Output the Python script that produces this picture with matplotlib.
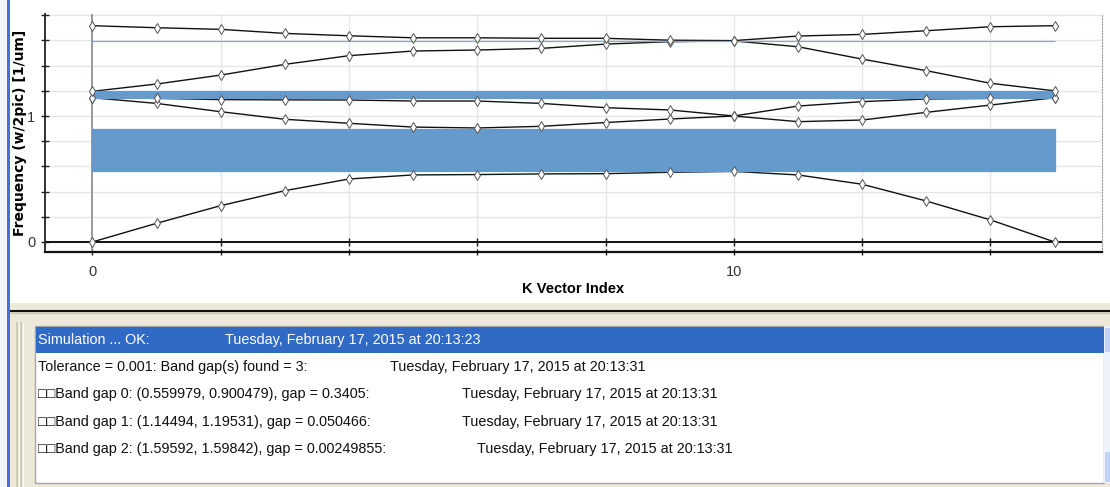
import numpy as np
import matplotlib
matplotlib.use("Agg")
import matplotlib.pyplot as plt
from matplotlib.patches import Rectangle

# ---------------- data ----------------
k_index = list(range(16))
band1 = [0.0, 0.148, 0.288, 0.407, 0.500, 0.532, 0.535, 0.540, 0.542, 0.553, 0.560,
         0.532, 0.458, 0.325, 0.175, 0.0]
band2 = [1.145, 1.100, 1.034, 0.974, 0.942, 0.912, 0.905, 0.918, 0.948, 0.976, 1.000,
         0.955, 0.968, 1.029, 1.087, 1.145]
band3 = [1.145, 1.140, 1.130, 1.128, 1.127, 1.119, 1.119, 1.100, 1.066, 1.048, 1.000,
         1.079, 1.114, 1.135, 1.140, 1.145]
band4 = [1.196, 1.254, 1.325, 1.410, 1.479, 1.516, 1.524, 1.537, 1.571, 1.590, 1.596,
         1.550, 1.452, 1.360, 1.260, 1.200]
band5 = [1.717, 1.701, 1.688, 1.656, 1.637, 1.621, 1.621, 1.617, 1.617, 1.602, 1.5984,
         1.635, 1.648, 1.677, 1.709, 1.717]
bands = [band1, band2, band3, band4, band5]

gap_low = [0.559979, 1.14494, 1.59592]
gap_high = [0.900479, 1.19531, 1.59842]

x_ticks = [0, 2, 4, 6, 8, 10, 12, 14]
x_tick_labels = ["0", "", "", "", "", "10", "", ""]
y_ticks = [0.0, 0.2, 0.4, 0.6, 0.8, 1.0, 1.2, 1.4, 1.6, 1.8]
y_tick_labels = ["0", "", "", "", "", "1", "", "", "", ""]

x_title = "K Vector Index"
y_title = "Frequency (w/2pic) [1/um]"

log_messages = [
    "Simulation ... OK:",
    "Tolerance = 0.001: Band gap(s) found = 3:",
    "\u25a1\u25a1Band gap 0: (0.559979, 0.900479), gap = 0.3405:",
    "\u25a1\u25a1Band gap 1: (1.14494, 1.19531), gap = 0.050466:",
    "\u25a1\u25a1Band gap 2: (1.59592, 1.59842), gap = 0.00249855:",
]
log_times = [
    "Tuesday, February 17, 2015 at 20:13:23",
    "Tuesday, February 17, 2015 at 20:13:31",
    "Tuesday, February 17, 2015 at 20:13:31",
    "Tuesday, February 17, 2015 at 20:13:31",
    "Tuesday, February 17, 2015 at 20:13:31",
]

# ---------------- layout ----------------
W, H = 1110, 487
fig = plt.figure(figsize=(W / 100, H / 100), dpi=100, facecolor="white")

NARROW = ["Liberation Sans Narrow", "Liberation Sans", "DejaVu Sans"]
REG = ["Liberation Sans", "DejaVu Sans"]

# background / window chrome in pixel coordinates
bg = fig.add_axes([0, 0, 1, 1], zorder=0)
bg.set_xlim(0, W)
bg.set_ylim(H, 0)
bg.axis("off")
bg.add_patch(Rectangle((10, 303), W - 10, H - 303, facecolor="#ECE9D8", edgecolor="none"))
bg.hlines(309, 10, W, color="#F8F6EE", lw=1.0)
bg.hlines(311, 10, W, color="#111111", lw=1.6)
bg.hlines(313, 10, W, color="#C9C5B2", lw=1.0)
bg.vlines([17, 21], 322, H, color="#C9C5B2", lw=1.2)
bg.vlines([19, 23], 322, H, color="#FFFFFF", lw=0.8)
bg.add_patch(Rectangle((0, 0), 7, H, facecolor="#F4F4F4", edgecolor="none"))
bg.add_patch(Rectangle((7, 0), 3, H, facecolor="#3E74DC", edgecolor="none"))
# list box
bg.add_patch(Rectangle((35, 326), 1069, 157, facecolor="white", edgecolor="#A7A6AA", lw=1))
bg.add_patch(Rectangle((36, 327), 1068, 26, facecolor="#316AC5", edgecolor="none"))
bg.add_patch(Rectangle((1104, 326), 6, 157, facecolor="#EEF2FA", edgecolor="none"))
bg.add_patch(Rectangle((1105, 328), 5, 24, facecolor="#C3D3F5", edgecolor="none"))
bg.add_patch(Rectangle((1105, 452), 5, 30, facecolor="#C3D3F5", edgecolor="none"))

row_y = [340, 367, 394, 422, 449]
time_x = [225, 390, 462, 462, 477]
for i, (msg, tm) in enumerate(zip(log_messages, log_times)):
    col = "white" if i == 0 else "#111111"
    bg.text(38, row_y[i], msg, ha="left", va="center", fontsize=10.4,
            family=REG, color=col)
    bg.text(time_x[i], row_y[i], tm, ha="left", va="center", fontsize=10.4,
            family=REG, color=col)

# ---------------- chart ----------------
ax = fig.add_axes([45 / W, (H - 252) / H, (1102 - 45) / W, (252 - 14) / H], zorder=2)
ax.set_facecolor("white")
ax.set_xlim(-0.74, 15.74)
ax.set_ylim(-0.08, 1.81)

ax.set_xticks(x_ticks)
ax.set_xticklabels(x_tick_labels, family=NARROW, fontsize=10.5, color="#333333")
ax.set_yticks(y_ticks)
ax.set_yticklabels(y_tick_labels, family=NARROW, fontsize=10.5, color="#333333")
ax.tick_params(axis="x", direction="inout", length=5, width=1, color="#222222", pad=7)
ax.tick_params(axis="y", direction="inout", length=6, width=1, color="#222222", pad=4)
ax.grid(True, color="#E6E6E6", lw=1.0)
ax.set_axisbelow(True)

ax.spines["top"].set_visible(False)
ax.spines["right"].set_linestyle(":")
ax.spines["right"].set_color("#9A9A9A")
ax.spines["left"].set_color("#222222")
ax.spines["left"].set_linewidth(1.3)
ax.spines["bottom"].set_color("#111111")
ax.spines["bottom"].set_linewidth(1.6)

# zero line with its own tick marks
ax.axhline(0, color="#111111", lw=1.4, zorder=2)
ax.plot(x_ticks, [0] * len(x_ticks), ls="none", marker="|", ms=6, mew=1,
        color="#222222", zorder=2)
ax.axvline(0, color="#9A9A9A", lw=1.4, zorder=1)

# bands
for b in bands:
    ax.plot(k_index, b, color="#111111", lw=1.0, zorder=3)

# gaps
gap_faces = ["#6699CC", "#6699CC", "#7FAADD"]
gap_edges = ["#6699CC", "#6699CC", "#7FAADD"]
for lo, hi, fc, ec in zip(gap_low, gap_high, gap_faces, gap_edges):
    ax.fill_between([k_index[0], k_index[-1]], lo, hi, facecolor=fc,
                    edgecolor=ec, lw=0.9, zorder=4)

# markers on top
for b in bands:
    ax.plot(k_index, b, ls="none", marker="d", ms=5.5, mfc="white", mec="#555555",
            mew=0.7, zorder=5)

ax.set_xlabel(x_title, fontsize=10.5, fontweight="bold", family=NARROW, labelpad=2)
ax.set_ylabel(y_title, fontsize=10, fontweight="bold", family=["DejaVu Sans"])
ax.yaxis.set_label_coords((27 - 45) / (1102 - 45), 0.5)

fig.savefig("out.png", dpi=100, facecolor="white")
